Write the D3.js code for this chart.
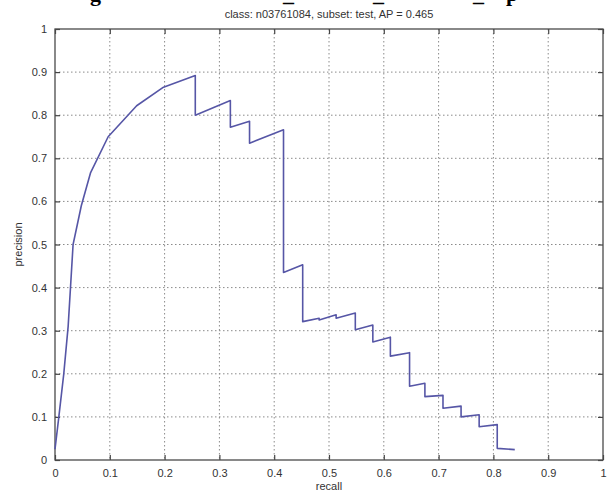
<!DOCTYPE html>
<html>
<head>
<meta charset="utf-8">
<script src="https://cdn.jsdelivr.net/npm/d3@7"></script>
<style>
  body { margin: 0; background: #fff; }
  text { font-family: "Liberation Sans", Arial, sans-serif; }
</style>
</head>
<body>
<div id="chart"></div>
<script>
//data
var recall = [0, 0.007, 0.016, 0.024, 0.033, 0.048, 0.065, 0.097, 0.149, 0.198, 0.256,
  0.256, 0.32, 0.32, 0.355, 0.355, 0.417, 0.417, 0.452, 0.452, 0.482, 0.482, 0.513, 0.513,
  0.548, 0.548, 0.58, 0.58, 0.612, 0.612, 0.647, 0.647, 0.675, 0.675, 0.708, 0.708,
  0.741, 0.741, 0.774, 0.774, 0.807, 0.807, 0.839];
var precision = [0.025, 0.1, 0.2, 0.31, 0.5, 0.59, 0.667, 0.75, 0.822, 0.865, 0.892,
  0.80, 0.834, 0.772, 0.786, 0.735, 0.766, 0.435, 0.453, 0.321, 0.329, 0.325, 0.337, 0.329,
  0.341, 0.302, 0.313, 0.274, 0.285, 0.241, 0.249, 0.171, 0.178, 0.147, 0.15, 0.12,
  0.125, 0.1, 0.105, 0.077, 0.082, 0.027, 0.024];

var xTicks = [0, 0.1, 0.2, 0.3, 0.4, 0.5, 0.6, 0.7, 0.8, 0.9, 1];
var yTicks = [0, 0.1, 0.2, 0.3, 0.4, 0.5, 0.6, 0.7, 0.8, 0.9, 1];

var titleText = "class: n03761084, subset: test, AP = 0.465";
//bits of the caption line above, cut off by the crop
var captionBits = [["g", 90], ["_", 283], ["_", 373], ["_", 473], ["p", 506]];

//svg frame
var svgWidth = 613;
var svgHeight = 493;

var margin = { top: 29, right: 10, bottom: 33, left: 55 };
var width = svgWidth - margin.left - margin.right;
var height = svgHeight - margin.top - margin.bottom;

var svg = d3.select("#chart")
  .append("svg")
  .attr("width", svgWidth)
  .attr("height", svgHeight);

//caption remains at the very top
svg.append("text")
  .attr("y", 1)
  .style("font-family", "'Liberation Serif', 'Times New Roman', serif")
  .style("font-weight", "bold")
  .style("font-size", "22px")
  .attr("fill", "#000")
  .selectAll("tspan")
  .data(captionBits)
  .enter()
  .append("tspan")
  .attr("x", d => d[1])
  .text(d => d[0]);

var chartGroup = svg.append("g")
  .attr("transform", `translate(${margin.left}, ${margin.top})`);

var x = d3.scaleLinear().domain([0, 1]).range([0, width]);
var y = d3.scaleLinear().domain([0, 1]).range([height, 0]);

//dotted grid
chartGroup.append("g")
  .selectAll("line")
  .data(xTicks.slice(1, -1))
  .enter()
  .append("line")
  .attr("x1", d => x(d)).attr("x2", d => x(d))
  .attr("y1", 0).attr("y2", height)
  .attr("stroke", "#8a8a8a")
  .attr("stroke-width", 1)
  .attr("stroke-dasharray", "1.5,2.5");

chartGroup.append("g")
  .selectAll("line")
  .data(yTicks.slice(1, -1))
  .enter()
  .append("line")
  .attr("y1", d => y(d)).attr("y2", d => y(d))
  .attr("x1", 0).attr("x2", width)
  .attr("stroke", "#8a8a8a")
  .attr("stroke-width", 1)
  .attr("stroke-dasharray", "1.5,2.5");

//axes with inward ticks on all four sides
function styleAxis(g) {
  g.select(".domain").remove();
  g.selectAll(".tick line").attr("stroke", "#444").attr("stroke-width", 1.2);
  g.selectAll(".tick text")
    .attr("fill", "#333")
    .style("font-size", "11px");
}

chartGroup.append("g")
  .attr("transform", `translate(0, ${height})`)
  .call(d3.axisBottom(x).tickValues(xTicks).tickFormat(d3.format("")).tickSizeInner(-5).tickPadding(9))
  .call(styleAxis);

chartGroup.append("g")
  .call(d3.axisLeft(y).tickValues(yTicks).tickFormat(d3.format("")).tickSizeInner(-5).tickPadding(8))
  .call(styleAxis);

chartGroup.append("g")
  .call(d3.axisTop(x).tickValues(xTicks).tickFormat("").tickSizeInner(-5))
  .call(styleAxis);

chartGroup.append("g")
  .attr("transform", `translate(${width}, 0)`)
  .call(d3.axisRight(y).tickValues(yTicks).tickFormat("").tickSizeInner(-5))
  .call(styleAxis);

//box
chartGroup.append("rect")
  .attr("width", width)
  .attr("height", height)
  .attr("fill", "none")
  .attr("stroke", "#4a4a4a")
  .attr("stroke-width", 1.3);

//pr curve
var line = d3.line()
  .x((d, i) => x(recall[i]))
  .y((d, i) => y(precision[i]));

chartGroup.append("path")
  .datum(recall)
  .attr("d", line)
  .attr("fill", "none")
  .attr("stroke", "#5656a6")
  .attr("stroke-width", 1.6)
  .attr("stroke-linejoin", "round");

//title and axis labels
chartGroup.append("text")
  .attr("x", width / 2)
  .attr("y", -11)
  .attr("text-anchor", "middle")
  .attr("fill", "#333")
  .style("font-size", "11px")
  .text(titleText);

chartGroup.append("text")
  .attr("x", width / 2)
  .attr("y", height + 30)
  .attr("text-anchor", "middle")
  .attr("fill", "#333")
  .style("font-size", "11px")
  .text("recall");

chartGroup.append("text")
  .attr("transform", "rotate(-90)")
  .attr("x", -height / 2)
  .attr("y", -33)
  .attr("text-anchor", "middle")
  .attr("fill", "#333")
  .style("font-size", "11px")
  .text("precision");
</script>
</body>
</html>
